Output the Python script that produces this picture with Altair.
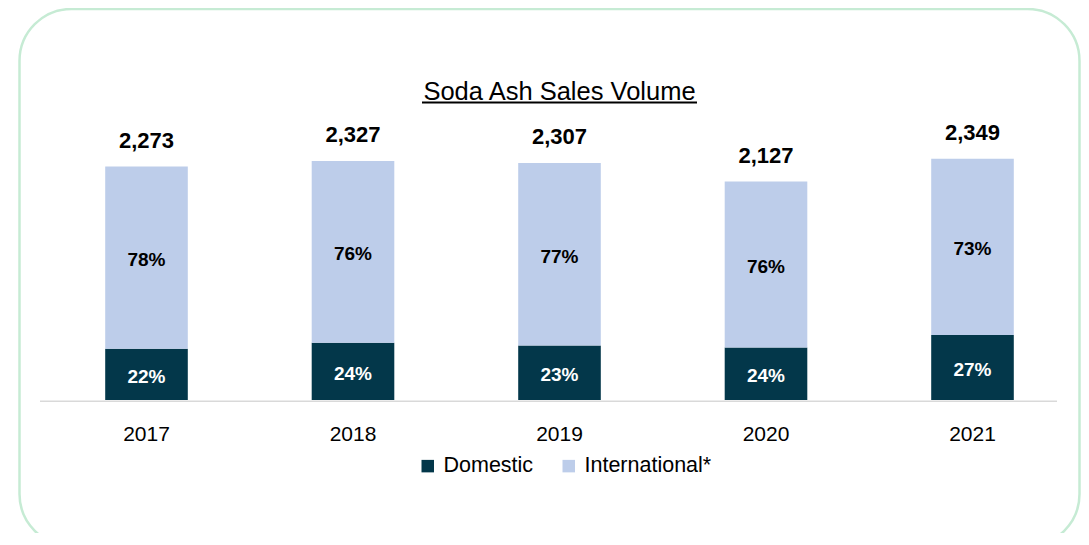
import altair as alt
import pandas as pd

# ---- data ----
years = ["2017", "2018", "2019", "2020", "2021"]
totals = [2273, 2327, 2307, 2127, 2349]
total_labels = ["2,273", "2,327", "2,307", "2,127", "2,349"]
domestic = [500, 558, 531, 510, 634]
international = [1773, 1769, 1776, 1617, 1715]
domestic_pct = ["22%", "24%", "23%", "24%", "27%"]
international_pct = ["78%", "76%", "77%", "76%", "73%"]
segments = ["Domestic", "International*"]
seg_colors = ["#03374A", "#BDCDEA"]
title_text = "Soda Ash Sales Volume"

FONT = "Liberation Sans"

rows = []
for i, y in enumerate(years):
    rows.append({"year": y, "segment": segments[0], "value": domestic[i], "order": 0})
    rows.append({"year": y, "segment": segments[1], "value": international[i], "order": 1})
df = pd.DataFrame(rows)

df_tot = pd.DataFrame({"year": years, "total": totals, "label": total_labels})
df_dom = pd.DataFrame({"year": years, "mid": [d / 2 for d in domestic], "label": domestic_pct})
df_int = pd.DataFrame({"year": years,
                       "mid": [d + n / 2 for d, n in zip(domestic, international)],
                       "label": international_pct})
one = pd.DataFrame({"k": [0]})

xscale = alt.Scale(domain=years, range=[35.25, 1067.75], paddingInner=0.6, paddingOuter=0.3)
yscale = alt.Scale(domain=[0, 3000], range=[392, 83.9])

X = alt.X("year:N", scale=xscale, axis=None)

border = alt.Chart(one).mark_rect(
    fillOpacity=0, stroke="#C6EBD4", strokeWidth=2.5, cornerRadius=52
).encode(x=alt.value(11.5), x2=alt.value(1071.5), y=alt.value(1), y2=alt.value(538))

baseline = alt.Chart(one).mark_rule(color="#D9D9D9", strokeWidth=1.6).encode(
    x=alt.value(32), x2=alt.value(1049), y=alt.value(393.3)
)

bars = alt.Chart(df).mark_bar().encode(
    x=X,
    y=alt.Y("value:Q", stack="zero", scale=yscale, axis=None),
    color=alt.Color(
        "segment:N",
        scale=alt.Scale(domain=segments, range=seg_colors),
        legend=alt.Legend(
            orient="none", legendX=409, legendY=447, direction="horizontal",
            title=None, symbolType="square", symbolSize=156, symbolStrokeWidth=0,
            symbolOpacity=1, labelFontSize=21.5, labelFont=FONT, labelColor="black",
            labelOffset=5, columnPadding=24, padding=0,
        ),
    ),
    order=alt.Order("order:Q", sort="ascending"),
)

tot_text = alt.Chart(df_tot).mark_text(
    font=FONT, fontSize=22, fontWeight="bold", color="black", baseline="alphabetic", dy=-19
).encode(x=X, y=alt.Y("total:Q", scale=yscale), text="label:N")

dom_text = alt.Chart(df_dom).mark_text(
    font=FONT, fontSize=19, fontWeight="bold", color="white", baseline="middle", dy=2.5
).encode(x=X, y=alt.Y("mid:Q", scale=yscale), text="label:N")

int_text = alt.Chart(df_int).mark_text(
    font=FONT, fontSize=19, fontWeight="bold", color="black", baseline="middle", dy=2.5
).encode(x=X, y=alt.Y("mid:Q", scale=yscale), text="label:N")

year_text = alt.Chart(df_tot).mark_text(
    font=FONT, fontSize=21, color="black", baseline="alphabetic"
).encode(x=X, y=alt.value(433), text="year:N")

title = alt.Chart(one).mark_text(
    font=FONT, fontSize=25.5, color="black", baseline="alphabetic", align="center"
).encode(x=alt.value(551.5), y=alt.value(92), text=alt.value(title_text))

underline = alt.Chart(one).mark_rule(color="black", strokeWidth=1.8).encode(
    x=alt.value(414), x2=alt.value(689), y=alt.value(94.5)
)

chart = alt.layer(
    border, baseline, bars, tot_text, dom_text, int_text, year_text, title, underline
).properties(
    width=1073, height=525, autosize=alt.AutoSizeParams(type="none"), padding=0
).configure_view(stroke=None)

chart.save("out.html", embed_options={"renderer": "svg", "actions": False})
